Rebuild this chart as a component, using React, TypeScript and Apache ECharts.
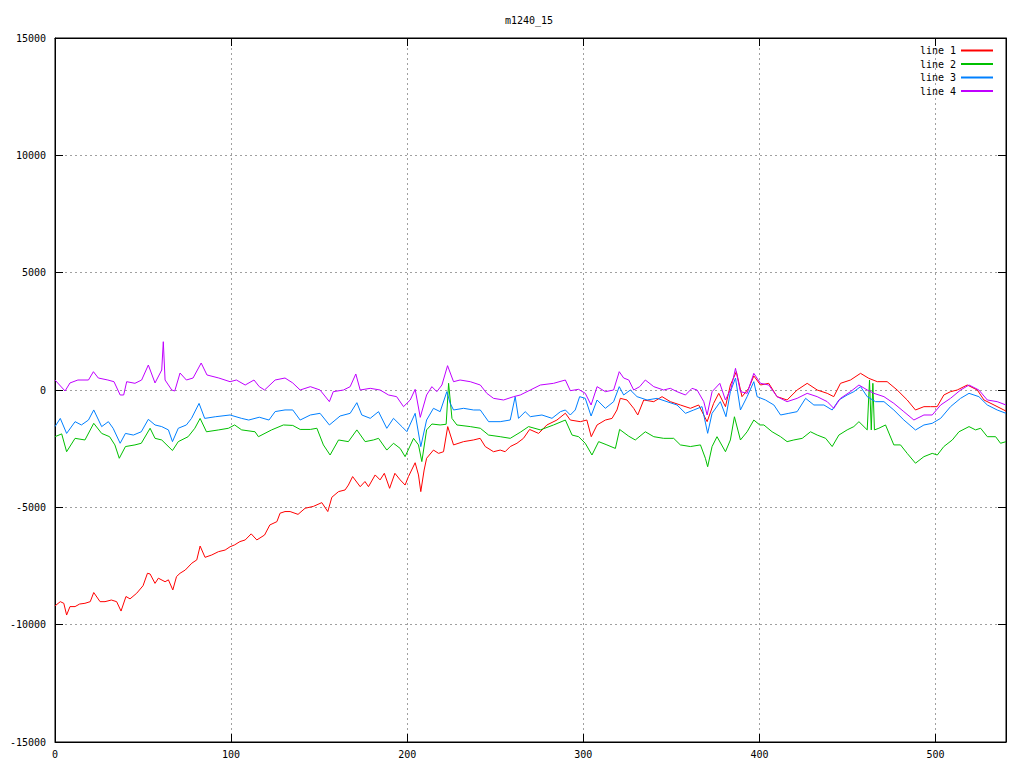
import React, { useEffect, useRef } from "react";
import * as echarts from "echarts";

const TITLE = "m1240_15";
const SERIES_NAMES = ["line 1", "line 2", "line 3", "line 4"];
const COLORS = ["#ff0000", "#00c000", "#0080ff", "#c000ff"];

const line1: [number, number][] = [
  [0, -9200], [3, -9020], [5, -9090], [6.6, -9590], [8.5, -9230], [11.4, -9230], [14, -9120], [17, -9090],
  [20, -9020], [22, -8630], [25.6, -9020], [28.4, -9020], [32, -8950], [35, -9020], [37.5, -9420], [40.3, -8800],
  [42.6, -8900], [46.4, -8660], [50, -8340], [52.5, -7810], [54, -7840], [56.8, -8240], [58.7, -8020], [62.5, -8170],
  [64.4, -8090], [66.9, -8520], [69, -7950], [71, -7810], [74, -7670], [77.7, -7380], [80.5, -7240], [82.4, -6650],
  [85.2, -7130], [89, -7030], [92.8, -6890], [96.6, -6820], [99.4, -6680], [102, -6600], [105, -6460], [108, -6390],
  [111.4, -6130], [114.6, -6390], [119, -6180], [122, -5750], [126, -5610], [127.8, -5250], [130.6, -5180], [133.5, -5180],
  [138, -5300], [142, -5040], [146.7, -4960], [151.5, -4800], [154.9, -5180], [157.2, -4570], [161, -4330], [164.7, -4260],
  [166.6, -4050], [169, -3690], [173.3, -4120], [176, -3900], [178, -4120], [181.8, -3620], [184.6, -3830], [187, -3550],
  [190, -4190], [193, -3550], [196, -3830], [198.8, -4050], [200.7, -3690], [204.5, -3100], [206.4, -3620], [207.7, -4330],
  [209.6, -3410], [211, -2910], [214.9, -2560], [217.8, -2700], [220.6, -2630], [223, -1560], [226.3, -2340], [232, -2200],
  [237.6, -2130], [241.4, -2060], [244.3, -2410], [249, -2630], [252.8, -2560], [255.6, -2630], [258.5, -2410], [262.3, -2270],
  [266, -2060], [269.5, -1680], [274.6, -1850], [279.3, -1490], [285, -1280], [289.8, -990], [292.6, -1280], [298.3, -1350],
  [302, -1280], [304.5, -1990], [307.8, -1490], [312.5, -1280], [316.3, -1210], [319.1, -850], [321, -355], [324.8, -426],
  [328.6, -781], [330.9, -1065], [334.3, -426], [340, -497], [344.7, -284], [349.4, -497], [355.1, -639], [360.8, -781],
  [365.5, -639], [370.3, -1349], [374, -568], [376.9, -142], [380.7, -710], [383.5, 213], [386.9, 781], [390.1, -284],
  [393.9, 71], [396.8, 600], [400.6, 213], [405.3, 284], [410, -284], [415.7, -426], [421.4, 0], [427.1, 284],
  [432.8, 0], [438.5, -142], [442.2, -284], [446, 284], [451.7, 426], [457.4, 710], [462.1, 497], [466.9, 355],
  [472.5, 355], [478.2, 0], [483.9, -426], [488.6, -852], [493.4, -710], [497.2, -710], [500.9, -710], [504.7, -213],
  [508.5, -71], [512.3, 0], [518, 213], [523.7, 0], [527.5, -426], [533.2, -639], [538.8, -852], [540, -900],
];

const line2: [number, number][] = [
  [0, -1990], [3.8, -1870], [6.6, -2630], [11.4, -2060], [17, -2130], [22, -1420], [26.5, -1850], [31, -1990],
  [34, -2340], [36.5, -2910], [40, -2410], [45.4, -2340], [49, -2270], [54, -1630], [56.8, -2060], [60.6, -2130],
  [66.7, -2580], [70, -2200], [75.6, -1990], [79.4, -1630], [82.4, -1210], [86, -1780], [93, -1700], [98.5, -1630],
  [102, -1490], [106, -1700], [113.6, -1780], [115.5, -1990], [123, -1700], [129.7, -1490], [135, -1510], [139.2, -1680],
  [145, -1680], [148.7, -1630], [152.4, -2340], [156.2, -2770], [161, -2130], [166.6, -2200], [171.4, -1700], [176.1, -2200],
  [180.8, -2130], [183.7, -2060], [188.4, -2560], [192.2, -2270], [196, -2490], [198.8, -2840], [203.6, -2060], [206.4, -2340],
  [208.3, -3050], [211, -1700], [214, -1450], [218.7, -1490], [222.1, -1460], [223.5, 285], [225.4, -1210], [228.2, -1490],
  [235.8, -1560], [241.5, -1630], [246.2, -1920], [252.8, -1990], [258.5, -2060], [264.2, -1800], [268.9, -1560], [275.6, -1700],
  [283.1, -1490], [289.8, -1280], [293.6, -1920], [297.3, -1990], [301.1, -2270], [304.9, -2770], [308.7, -2200], [313.4, -2340],
  [318.2, -2490], [320.6, -1680], [325.8, -1970], [329.5, -2130], [335.2, -1780], [340, -1990], [345.6, -2060], [351.3, -2060],
  [355.1, -2340], [360.8, -2410], [366.5, -2340], [369.3, -2910], [370.6, -3270], [373.1, -2410], [375.9, -1990], [380.7, -2630],
  [383.5, -2130], [385.8, -1140], [389.2, -2130], [393, -1780], [396.8, -1280], [400.2, -1490], [402.5, -1490], [407.2, -1780],
  [412, -1990], [415.7, -2200], [419.5, -2130], [424.3, -2060], [429, -1780], [432.8, -1920], [437.6, -2060], [441.3, -2410],
  [445.1, -1920], [449.8, -1700], [453.6, -1560], [456.5, -1350], [461.2, -1700], [462.5, 426], [463.5, -1700], [464.4, 285],
  [465.3, -1700], [467.8, -1630], [471.6, -1490], [476.3, -2340], [480.1, -2340], [483.9, -2700], [488.6, -3120], [493.4, -2840],
  [498.1, -2700], [501, -2770], [504.7, -2410], [509.5, -2130], [513.3, -1780], [519, -1560], [522.7, -1700], [525.6, -1630],
  [529.4, -1990], [534.1, -1990], [536.9, -2270], [540, -2200],
];

const line3: [number, number][] = [
  [0, -1560], [3, -1210], [6.6, -1850], [11.4, -1350], [15, -1490], [19, -1280], [22, -850], [26.5, -1560],
  [30.3, -1350], [33, -1630], [37, -2270], [40, -1850], [44.5, -1920], [49, -1780], [53, -1250], [56.8, -1490],
  [60.6, -1560], [64.4, -1700], [66.7, -2200], [70, -1630], [74.6, -1490], [77.5, -1210], [81.8, -570], [85, -1210],
  [91, -1140], [99.4, -1065], [106, -1210], [110, -1280], [116, -1160], [121.5, -1280], [125, -920], [130.6, -850],
  [135, -850], [139.2, -1280], [145, -1065], [150.5, -994], [155.8, -1490], [161.9, -1108], [167.6, -994], [171.4, -540],
  [174.2, -1065], [179, -1207], [183.7, -923], [188.4, -1633], [192.2, -1207], [197, -1563], [199.8, -1775], [204.5, -994],
  [207.7, -2414], [211, -1278], [214.9, -781], [218.7, -923], [222.5, -71], [224.4, -568], [226.3, -852], [232, -781],
  [237.7, -852], [241.5, -852], [246.2, -1349], [252.8, -1349], [258.5, -1278], [261.3, -284], [263.2, -1207], [267, -923],
  [269.9, -1136], [276.5, -1065], [282.2, -1207], [287, -923], [289.8, -852], [292.6, -1065], [295.4, -852], [297.9, -284],
  [301.1, -355], [304.4, -1108], [307.8, -426], [312.5, -781], [317.2, -497], [320.4, 142], [322.9, -213], [326.7, 0],
  [330.5, -284], [336.2, -426], [341.9, -355], [347.5, -497], [353.2, -639], [358, -994], [362.7, -852], [367.4, -710],
  [370.6, -1846], [373.1, -994], [377.8, -497], [381, -1136], [383.5, -71], [386.4, 511], [389.2, -852], [393, -284],
  [396.8, 355], [398.7, -284], [403.4, -426], [408.2, -639], [412, -1065], [416.7, -994], [421.4, -923], [426.2, -355],
  [430.9, -639], [436.6, -639], [441.3, -852], [445.1, -426], [449.8, -213], [453.6, -71], [457.4, 142], [461.2, -284],
  [465.9, -497], [470.7, -497], [476.3, -852], [482, -1278], [488.6, -1704], [493.4, -1491], [498.1, -1420], [502.9, -1207],
  [508.5, -710], [514.2, -355], [519, -142], [524.6, -284], [529.4, -639], [535, -852], [540, -994],
];

const line4: [number, number][] = [
  [0, 426], [5.7, -43], [8.5, 300], [13, 426], [19, 426], [21.8, 780], [24.6, 511], [30, 426],
  [33.5, 354], [37, -213], [39, -213], [40.7, 354], [45.4, 285], [49.2, 426], [53, 1065], [56.8, 300],
  [60.6, 852], [61.5, 2058], [62.5, 426], [66.3, 0], [68, -43], [71, 724], [74.6, 426], [78.4, 511],
  [83, 1150], [86.3, 640], [93, 511], [99.4, 354], [103, 426], [108, 213], [113, 426], [116, 142],
  [119, 0], [125, 426], [130.6, 511], [135, 300], [139.2, 0], [145, 142], [150.5, 0], [155.8, -497],
  [158, -71], [163.8, 0], [167.6, 142], [170.8, 682], [173.3, 0], [179, 71], [184.6, 0], [189.4, -213],
  [194, -284], [197.9, -710], [201.7, -426], [204.5, 28], [207.4, -1164], [211, -213], [214, 142], [216.8, -71],
  [219.7, 213], [222.9, 1037], [226.3, 354], [230, 426], [235.8, 354], [241.5, 213], [245.2, -142], [249, -355],
  [254.7, -426], [260.4, -284], [264.2, -213], [269.9, 0], [275.6, 213], [283.1, 284], [289.8, 426], [292.6, -28],
  [297.3, 28], [301.1, -142], [304.4, -639], [307.8, 142], [312.5, -71], [317.2, 0], [320.4, 781], [322.9, 511],
  [325.8, 426], [328.6, 0], [332, 142], [335.2, 426], [340, 142], [345.6, 0], [349.4, 71], [353.2, -71],
  [358, -213], [361.7, 71], [364.6, 0], [368.4, -497], [370.3, -1065], [373.1, -71], [377.5, 284], [380.7, -426],
  [383.9, 71], [386.4, 923], [389.2, -71], [393, -142], [396.8, 710], [400.6, 284], [405.3, 213], [410, -284],
  [415.7, -497], [421.4, -355], [427.1, -142], [432.8, -284], [438.5, -497], [442.2, -781], [446, -355], [451.7, -71],
  [456.5, 213], [461.2, 0], [465, -142], [470.7, -284], [476.3, -568], [482, -923], [487.7, -1278], [493.4, -1065],
  [498.1, -1065], [502.9, -639], [508.5, -355], [514.2, 0], [519, 213], [524.6, 0], [529.4, -426], [535, -497],
  [540, -639],
];

const SERIES_DATA = [line1, line2, line3, line4];

const X_MIN = 0;
const X_MAX = 540;
const X_INTERVAL = 100;
const Y_MIN = -15000;
const Y_MAX = 15000;
const Y_INTERVAL = 5000;

const FONT = "DejaVu Sans Mono";

export default function App() {
  const ref = useRef<HTMLDivElement>(null);

  useEffect(() => {
    if (!ref.current) return;
    const chart = echarts.init(ref.current, null, { renderer: "svg" });
    const axisLineStyle = { color: "#000", width: 1 };
    const splitStyle = { color: "#a0a0a0", width: 1, type: [2, 3] as any };
    const plain = (v: number) => String(v);
    const option: any = {
      animation: false,
      backgroundColor: "#fff",
      textStyle: { fontFamily: FONT },
      graphic: [
        {
          type: "text",
          x: 529,
          y: 20,
          style: {
            text: TITLE,
            fill: "#000",
            font: `10px "${FONT}"`,
            align: "center",
            verticalAlign: "middle",
          },
        },
      ],
      legend: {
        orient: "vertical",
        right: 26,
        top: 39,
        align: "right",
        itemWidth: 32,
        itemHeight: 2,
        itemGap: 0.5,
        icon: "rect",
        data: SERIES_NAMES.map((name, i) => ({ name, itemStyle: { color: COLORS[i] } })),
        textStyle: { fontFamily: FONT, fontSize: 10, color: "#000", lineHeight: 13 },
      },
      grid: { left: 55, right: 18, top: 38, bottom: 26, show: true, borderColor: "#000", borderWidth: 1 },
      xAxis: [
        {
          type: "value",
          position: "bottom",
          min: X_MIN,
          max: X_MAX,
          interval: X_INTERVAL,
          axisLine: { show: true, onZero: false, lineStyle: axisLineStyle },
          axisTick: { show: true, inside: true, length: 8, lineStyle: axisLineStyle },
          axisLabel: { color: "#000", fontSize: 10, fontFamily: FONT, margin: 7, showMaxLabel: false, formatter: plain },
          splitLine: { show: true, lineStyle: splitStyle },
        },
        {
          type: "value",
          position: "top",
          min: X_MIN,
          max: X_MAX,
          interval: X_INTERVAL,
          axisLine: { show: true, onZero: false, lineStyle: axisLineStyle },
          axisTick: { show: true, inside: true, length: 8, lineStyle: axisLineStyle },
          axisLabel: { show: false },
          splitLine: { show: false },
        },
      ],
      yAxis: [
        {
          type: "value",
          position: "left",
          min: Y_MIN,
          max: Y_MAX,
          interval: Y_INTERVAL,
          axisLine: { show: true, onZero: false, lineStyle: axisLineStyle },
          axisTick: { show: true, inside: true, length: 8, lineStyle: axisLineStyle },
          axisLabel: { color: "#000", fontSize: 10, fontFamily: FONT, margin: 9, formatter: plain },
          splitLine: { show: true, lineStyle: splitStyle },
        },
        {
          type: "value",
          position: "right",
          min: Y_MIN,
          max: Y_MAX,
          interval: Y_INTERVAL,
          axisLine: { show: true, onZero: false, lineStyle: axisLineStyle },
          axisTick: { show: true, inside: true, length: 8, lineStyle: axisLineStyle },
          axisLabel: { show: false },
          splitLine: { show: false },
        },
      ],
      series: SERIES_NAMES.map((name, i) => ({
        name,
        type: "line",
        xAxisIndex: 0,
        yAxisIndex: 0,
        data: SERIES_DATA[i],
        showSymbol: false,
        symbol: "none",
        color: COLORS[i],
        itemStyle: { color: COLORS[i] },
        lineStyle: { color: COLORS[i], width: 1 },
        emphasis: { disabled: true },
      })),
    };
    chart.setOption(option);
    return () => chart.dispose();
  }, []);

  return (
    <div
      ref={ref}
      style={{ position: "fixed", left: 0, top: 0, width: 1024, height: 768, background: "#fff" }}
    />
  );
}
